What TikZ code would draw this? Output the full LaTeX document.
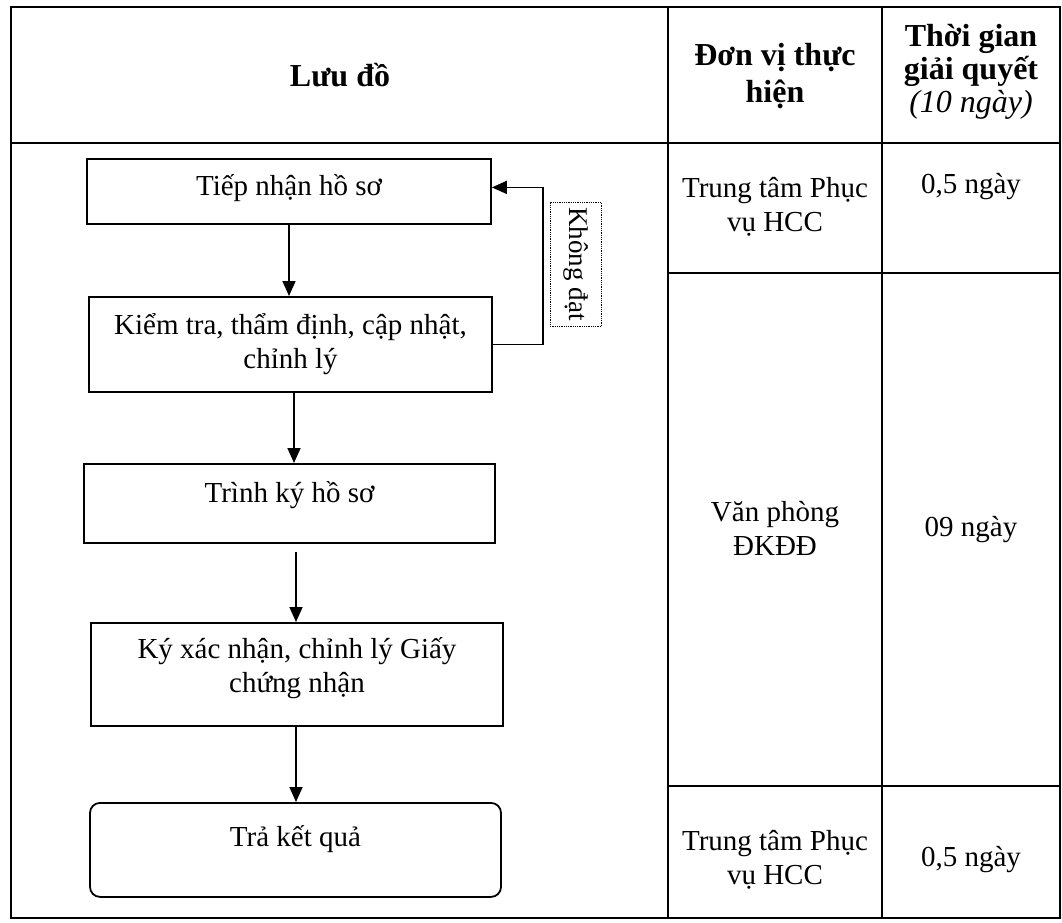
\documentclass[tikz,border=0pt]{standalone}
\usepackage{fontspec}
\setmainfont{Liberation Serif}
\usetikzlibrary{positioning,arrows.meta}

\tikzset{
  stepbox/.style={draw, line width=1.8pt, inner sep=0pt, align=center,
                  font=\fontsize{29}{34}\selectfont},
  cell/.style={align=center, inner sep=0pt, font=\fontsize{29}{34}\selectfont},
  head/.style={align=center, inner sep=0pt, font=\fontsize{32}{33}\selectfont\bfseries},
  flow/.style={line width=1.7pt, -{Triangle[length=15pt,width=13pt]}},
  grid/.style={line width=1.4pt},
}

\begin{document}
\begin{tikzpicture}[x=1pt, y=-1pt, line join=miter]
  \useasboundingbox (0,0) rectangle (1062,922);
  \coordinate (TL) at (11,7);
  \coordinate (BR) at (1060,918);
  % table frame and rules
  \draw[grid] (TL) rectangle (BR);
  \draw[grid] (11,143) -- (1060,143);
  \foreach \xx in {668,882} \draw[grid] (\xx,7) -- (\xx,918);
  \foreach \yy in {273,786} \draw[grid] (668,\yy) -- (1060,\yy);
  % header
  \node[head] (hflow) at (340,75) {Lưu đồ};
  \node[head, font=\fontsize{32}{37}\selectfont\bfseries] (hunit) at (775,76) {Đơn vị thực\\hiện};
  \node[head] (htime) at (971,72) {Thời gian\\giải quyết\\{\mdseries\itshape (10 ngày)}};
  % flow boxes
  \node[stepbox, anchor=north, minimum width=404pt, text height=37pt, text depth=28pt]
    (recv) at (289,158) {Tiếp nhận hồ sơ};
  \node[stepbox, anchor=north, minimum width=403pt, text height=72pt, text depth=23pt]
    (check) at (290.5,296) {Kiểm tra, thẩm định, cập nhật,\\chỉnh lý};
  \node[stepbox, anchor=north, minimum width=411pt, text height=39pt, text depth=40pt]
    (sign) at (289.5,463) {Trình ký hồ sơ};
  \node[stepbox, anchor=north, minimum width=412pt, text height=70pt, text depth=33pt]
    (cert) at (297,622) {Ký xác nhận, chỉnh lý Giấy\\chứng nhận};
  \node[stepbox, anchor=north, rounded corners=10pt, minimum width=411pt,
        text height=44pt, text depth=50pt]
    (done) at (295.5,802) {Trả kết quả};
  % connectors
  \draw[flow] (recv.south) -- (recv.south |- check.north);
  \draw[flow] ([xshift=3.5pt]check.south) -- ([xshift=3.5pt]check.south |- sign.north);
  \draw[flow] ([xshift=6.5pt,yshift=-8pt]sign.south) -- ([xshift=6.5pt]sign.south |- cert.north);
  \draw[flow] ([xshift=-1pt]cert.south) -- ([xshift=-1pt]cert.south |- done.north);
  % back loop
  \draw[flow] (check.east) -- ++(50,0) |- ([yshift=4pt]recv.east);
  \node[draw, densely dotted, line width=0.8pt, rotate=-90, inner sep=0pt,
        minimum width=124pt, minimum height=51pt, font=\fontsize{27}{30}\selectfont]
    (fail) at (575.5,264) {Không đạt};
  % unit / time cells
  \node[cell] (u1) at (775,207) {Trung tâm Phục\\vụ HCC};
  \node[cell] (t1) at (971,187) {0,5 ngày};
  \node[cell] (u2) at (775,528) {Văn phòng\\ĐKĐĐ};
  \node[cell] (t2) at (971,530) {09 ngày};
  \node[cell] (u3) at (775,860) {Trung tâm Phục\\vụ HCC};
  \node[cell] (t3) at (971,860) {0,5 ngày};
\end{tikzpicture}
\end{document}
